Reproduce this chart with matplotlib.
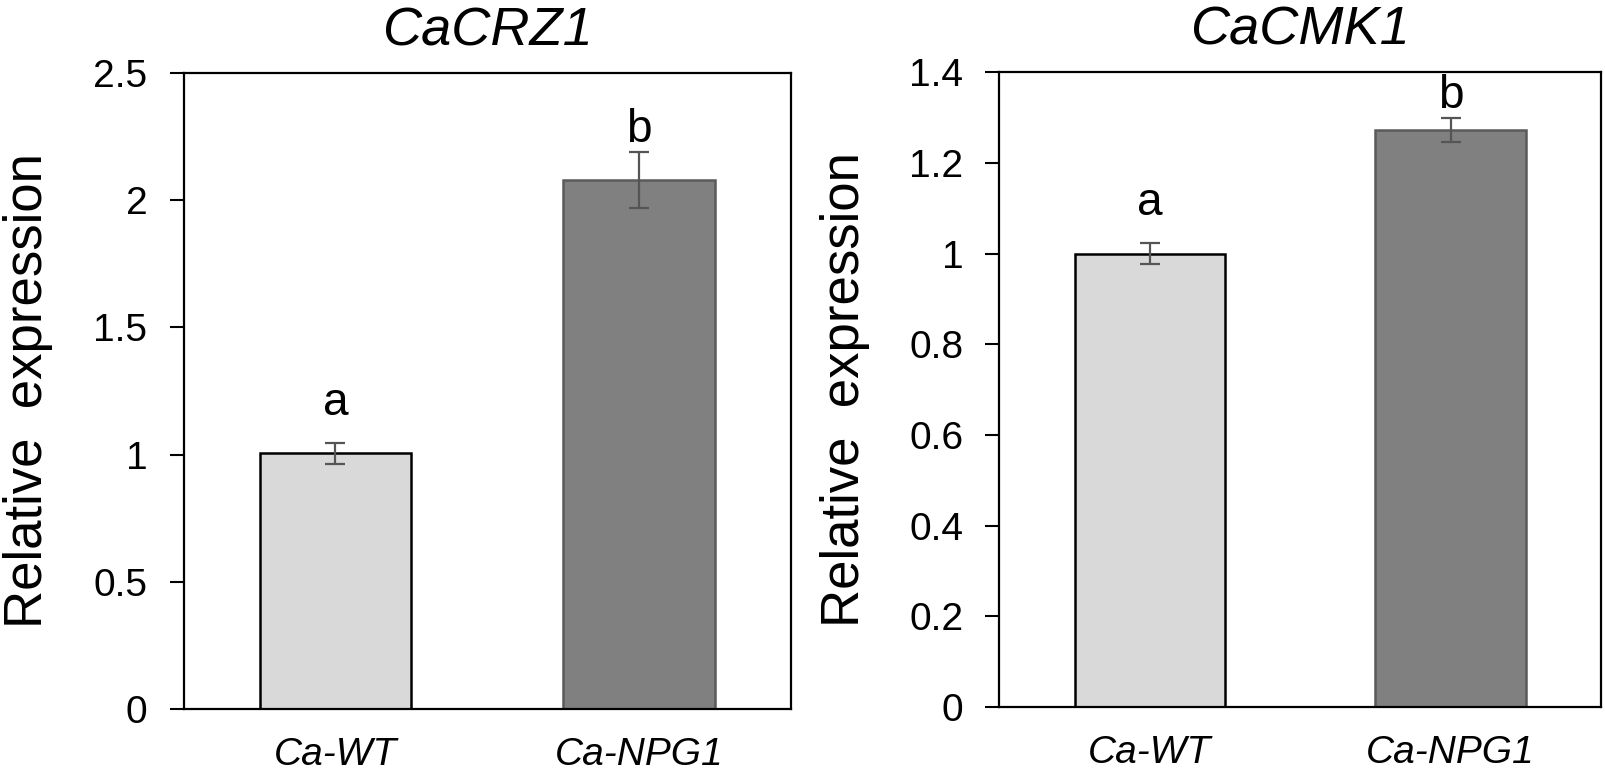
import matplotlib
matplotlib.use('Agg')
import matplotlib.pyplot as plt

plt.rcParams['font.family'] = ['Liberation Sans', 'DejaVu Sans']

# Datos
grupos = ['Ca-WT', 'Ca-NPG1']
genes = ['CaCRZ1', 'CaCMK1']
expr_crz1 = [1.005, 2.078]
err_crz1 = [0.04, 0.11]
expr_cmk1 = [1.0, 1.273]
err_cmk1 = [0.023, 0.026]
letras = ['a', 'b']
letra_y_crz1 = [1.155, 2.229]
letra_y_cmk1 = [1.085, 1.322]
ylims = [2.5, 1.4]
yticks_crz1 = [0, 0.5, 1, 1.5, 2, 2.5]
ytick_lab_crz1 = ['0', '0.5', '1', '1.5', '2', '2.5']
yticks_cmk1 = [0, 0.2, 0.4, 0.6, 0.8, 1.0, 1.2, 1.4]
ytick_lab_cmk1 = ['0', '0.2', '0.4', '0.6', '0.8', '1', '1.2', '1.4']

colores = ['#d9d9d9', '#808080']
bordes = ['#000000', '#5a5a5a']

fig = plt.figure(figsize=(16.06, 7.71), dpi=100)
ax1 = fig.add_axes([0.1143, 0.0804, 0.3783, 0.8249])
ax2 = fig.add_axes([0.6223, 0.0830, 0.3746, 0.8232])

paneles = [
    (ax1, genes[0], expr_crz1, err_crz1, letra_y_crz1, ylims[0], yticks_crz1, ytick_lab_crz1),
    (ax2, genes[1], expr_cmk1, err_cmk1, letra_y_cmk1, ylims[1], yticks_cmk1, ytick_lab_cmk1),
]

for ax, gen, vals, errs, ly, ymax, yt, ytl in paneles:
    x = list(range(len(grupos)))
    ax.bar(x, vals, width=0.5, color=colores, edgecolor=bordes, linewidth=1.8, zorder=2)
    ax.errorbar(x, vals, yerr=errs, fmt='none', ecolor='#555555', elinewidth=1.6,
                capsize=7, capthick=1.6, zorder=3)
    for xi, l, yl in zip(x, letras, ly):
        ax.text(xi, yl, l, ha='center', va='baseline', fontsize=33)
    ax.set_xlim(-0.5, 1.5)
    ax.set_ylim(0, ymax)
    ax.set_yticks(yt)
    ax.set_yticklabels(ytl)
    ax.set_xticks(x)
    ax.set_xticklabels(grupos, fontstyle='italic')
    ax.tick_params(axis='y', direction='out', length=10, width=1.5, pad=16, labelsize=28)
    ax.tick_params(axis='x', length=0, pad=20, labelsize=28)
    for sp in ax.spines.values():
        sp.set_linewidth(1.6)
    ax.set_ylabel('Relative  expression', fontsize=38)
    ax.yaxis.set_label_coords(-0.215, 0.5)
    ax.set_title(gen, fontsize=39, fontstyle='italic', pad=20)

fig.savefig('out.png', dpi=100)
